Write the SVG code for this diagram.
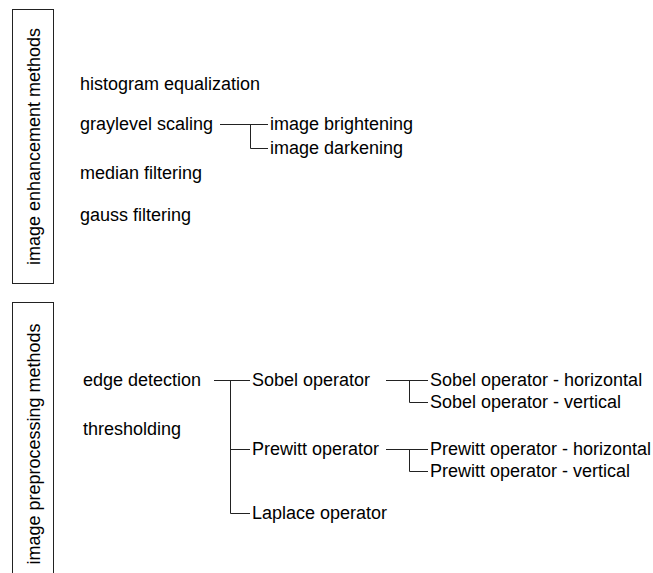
<svg xmlns="http://www.w3.org/2000/svg" width="653" height="573" viewBox="0 0 653 573">
  <style>
    .frame { fill: none; stroke: #222; stroke-width: 1; }
    .lbl { font-family: "Liberation Sans", Arial, sans-serif; font-size: 18px; fill: #000; }
    .wire { fill: none; stroke: #222; stroke-width: 1; }
  </style>
  <rect width="653" height="573" fill="#fff"/>

  <!-- section: enhancement -->
  <g id="enhancement-group">
    <rect class="frame" x="12.5" y="9.5" width="41" height="274"/>
    <text class="lbl" text-anchor="middle" transform="translate(39.5,146.5) rotate(-90)">image enhancement methods</text>
  </g>
  <g id="histogram-equalization"><text class="lbl" x="80" y="90">histogram equalization</text></g>
  <g id="graylevel-scaling"><text class="lbl" x="80" y="130">graylevel scaling</text></g>
  <g id="image-brightening"><text class="lbl" x="270" y="130">image brightening</text></g>
  <g id="image-darkening"><text class="lbl" x="270" y="154">image darkening</text></g>
  <g id="median-filtering"><text class="lbl" x="80" y="179">median filtering</text></g>
  <g id="gauss-filtering"><text class="lbl" x="80" y="221">gauss filtering</text></g>

  <!-- section: preprocessing -->
  <g id="preprocessing-group">
    <rect class="frame" x="12.5" y="302.5" width="41" height="290"/>
    <text class="lbl" text-anchor="middle" transform="translate(39.5,444) rotate(-90)">image preprocessing methods</text>
  </g>
  <g id="edge-detection"><text class="lbl" x="83" y="386">edge detection</text></g>
  <g id="thresholding"><text class="lbl" x="83" y="435">thresholding</text></g>
  <g id="sobel-operator"><text class="lbl" x="252" y="386">Sobel operator</text></g>
  <g id="prewitt-operator"><text class="lbl" x="252" y="455">Prewitt operator</text></g>
  <g id="laplace-operator"><text class="lbl" x="252" y="519">Laplace operator</text></g>
  <g id="sobel-horizontal"><text class="lbl" x="430" y="386">Sobel operator - horizontal</text></g>
  <g id="sobel-vertical"><text class="lbl" x="430" y="408">Sobel operator - vertical</text></g>
  <g id="prewitt-horizontal"><text class="lbl" x="430" y="455">Prewitt operator - horizontal</text></g>
  <g id="prewitt-vertical"><text class="lbl" x="430" y="477">Prewitt operator - vertical</text></g>

  <!-- tree connectors -->
  <g id="connectors">
    <path class="wire" d="M220 124.5 H268 M250.5 124.5 V148.5 H268"/>
    <path class="wire" d="M214 380.5 H250 M230.5 380.5 V513.5 H250 M230.5 449.5 H250"/>
    <path class="wire" d="M386 380.5 H428 M409.5 380.5 V402.5 H428"/>
    <path class="wire" d="M386 449.5 H428 M409.5 449.5 V471.5 H428"/>
  </g>
</svg>
